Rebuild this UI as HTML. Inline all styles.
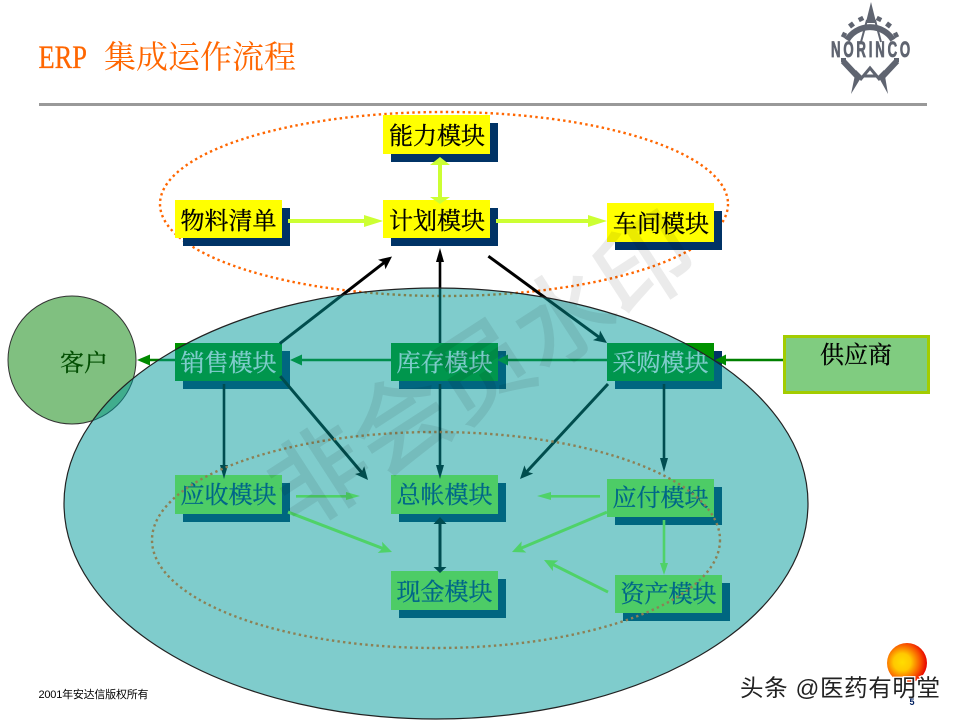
<!DOCTYPE html>
<html><head><meta charset="utf-8"><title>ERP 集成运作流程</title>
<style>
html,body{margin:0;padding:0;background:#fff;width:960px;height:720px;overflow:hidden}
svg{display:block}
.m{font-family:"Liberation Serif","Noto Serif CJK SC",serif;font-size:24px;text-anchor:middle;stroke-width:.3px}
</style></head><body>
<svg width="960" height="720" viewBox="0 0 960 720" xmlns="http://www.w3.org/2000/svg">
<defs>
<radialGradient id="sun" cx="38%" cy="48%" r="62%"><stop offset="0" stop-color="#ffdd00"/><stop offset=".35" stop-color="#ffc800"/><stop offset=".75" stop-color="#f85000"/><stop offset="1" stop-color="#e60000"/></radialGradient>
</defs>
<rect width="960" height="720" fill="#fff"/>

<!-- title -->
<text x="38.500" y="68" font-family="Liberation Serif,serif" font-size="33" fill="#ff6600" stroke="#ff6600" stroke-width=".3" textLength="48.500" lengthAdjust="spacingAndGlyphs">ERP</text>
<text x="104" y="68" font-family="Liberation Serif,Noto Serif CJK SC,serif" font-size="32" fill="#ff6600">集成运作流程</text>
<rect x="39" y="103" width="888" height="3" fill="#999"/>

<!-- logo -->
<g fill="none" stroke="#5f6470">
<path d="M847 40A27 27 0 0 1 893 40" stroke-width="6"/>
<path d="M846 36l-4 -2M853 27l-3 -4M862 21l-2 -4M878 21l2 -4M887 27l3 -4M894 36l4 -2" stroke-width="5"/>
<path d="M867 20L861 42M875 20L881 42" stroke-width="2"/>
<path d="M867 22H875" stroke-width="2"/>
<path d="M843 61L858 77M897 61L882 77" stroke-width="6"/>
<path d="M841 60h5M894 60h5" stroke-width="4"/>
<path d="M860 80L870 68L880 80M864 76H876" stroke-width="3"/>
</g>
<path d="M871 2L866 22H876Z" fill="#5f6470"/>
<path d="M851 94L856 70L862 76ZM888 94L884 70L878 76Z" fill="#5f6470"/>
<text transform="translate(831 57) scale(.6 1)" font-family="Liberation Sans,sans-serif" font-weight="bold" font-size="22" fill="#5f6470" stroke="#5f6470" stroke-width=".8" textLength="132" lengthAdjust="spacing">NORINCO</text>

<!-- customer circle -->
<circle cx="72" cy="360" r="64" fill="#80c080" stroke="#333" stroke-width="1"/>

<!-- orange dotted ellipse -->
<ellipse cx="444" cy="204" rx="284" ry="92" fill="none" stroke="#ff6600" stroke-width="2.400" stroke-dasharray="2.400 3.200"/>

<!-- yellow boxes -->
<g fill="#003366">
<rect x="391" y="123" width="107" height="39"/>
<rect x="183" y="208" width="107" height="38"/>
<rect x="391" y="208" width="107" height="38"/>
<rect x="615" y="211" width="107" height="39"/>
</g>
<g fill="#ffff00">
<rect x="383" y="115" width="107" height="39"/>
<rect x="175" y="200" width="107" height="38"/>
<rect x="383" y="200" width="107" height="38"/>
<rect x="607" y="203" width="107" height="39"/>
</g>
<g fill="#000" stroke="#000">
<text class="m" x="437" y="144">能力模块</text>
<text class="m" x="228.500" y="229">物料清单</text>
<text class="m" x="437" y="229">计划模块</text>
<text class="m" x="661" y="232">车间模块</text>
</g>

<!-- supplier -->
<rect x="784.500" y="336.500" width="144" height="56" fill="#80cc80" stroke="#a3cc00" stroke-width="3"/>
<text class="m" x="856" y="363" fill="#000" stroke="#000">供应商</text>

<!-- boxes below big ellipse -->
<g fill="#003366">
<rect x="183" y="351" width="107" height="38"/>
<rect x="399" y="351" width="107" height="38"/>
<rect x="615" y="351" width="107" height="38"/>
</g>
<g fill="#009200">
<rect x="175" y="343" width="107" height="38"/>
<rect x="391" y="343" width="107" height="38"/>
<rect x="607" y="343" width="107" height="38"/>
</g>
<g fill="#fff" stroke="#fff">
<text class="m" x="228.500" y="371">销售模块</text>
<text class="m" x="444.500" y="371">库存模块</text>
<text class="m" x="660.500" y="371">采购模块</text>
</g>

<!-- dark green arrows -->
<g fill="#008a00" stroke="#008000" stroke-width="2.600">
<line x1="783" y1="360" x2="724" y2="360"/><path d="M715 360L726 354.500V365.500Z" stroke="none"/>
<line x1="607" y1="360" x2="506" y2="360"/><path d="M497 360L508 354.500V365.500Z" stroke="none"/>
<line x1="391" y1="360" x2="300" y2="360"/><path d="M290 360L302 354.500V365.500Z" stroke="none"/>
<line x1="175" y1="360" x2="148" y2="360"/><path d="M137 360L150 354.500V365.500Z" stroke="none"/>
</g>

<!-- black arrows under the ellipse -->
<g fill="#000" stroke="none">
<g transform="translate(392 256.500) rotate(-37.800)"><rect x="-142" y="-1.500" width="134" height="3"/><path d="M0 0L-13 -6L-10 0L-13 6Z"/></g>
<g transform="translate(607 343) rotate(36.200)"><rect x="-147" y="-1.500" width="139" height="3"/><path d="M0 0L-13 -6L-10 0L-13 6Z"/></g>
<rect x="438.700" y="258" width="2.600" height="85"/><path d="M440 248L436 262H444Z"/>
<g transform="translate(368 480) rotate(49.800)"><rect x="-136" y="-1.500" width="128" height="3"/><path d="M0 0L-13 -6L-10 0L-13 6Z"/></g>
<g transform="translate(520 479) rotate(132.800)"><rect x="-129.500" y="-1.500" width="121" height="3"/><path d="M0 0L-13 -6L-10 0L-13 6Z"/></g>
</g>

<!-- big translucent ellipse -->
<ellipse cx="436" cy="503.500" rx="372" ry="215.500" fill="#009999" fill-opacity=".5" stroke="#222" stroke-width="1.200"/>

<!-- opaque light-green boxes -->
<g fill="#006680">
<rect x="183" y="483" width="107" height="39"/>
<rect x="399" y="483" width="107" height="39"/>
<rect x="615" y="487" width="107" height="38"/>
<rect x="399" y="579" width="107" height="39"/>
<rect x="623" y="583" width="107" height="38"/>
</g>
<g fill="#4dcc66">
<rect x="175" y="475" width="107" height="39"/>
<rect x="391" y="475" width="107" height="39"/>
<rect x="607" y="479" width="107" height="38"/>
<rect x="391" y="571" width="107" height="39"/>
<rect x="615" y="575" width="107" height="38"/>
</g>
<g fill="#006688" stroke="#006688">
<text class="m" x="228.500" y="503">应收模块</text>
<text class="m" x="444.500" y="503">总帐模块</text>
<text class="m" x="660.500" y="506">应付模块</text>
<text class="m" x="444.500" y="600">现金模块</text>
<text class="m" x="668.500" y="602">资产模块</text>
</g>

<!-- dark vertical arrows over the boxes -->
<g fill="#004c50">
<rect x="438.700" y="384" width="2.600" height="86"/><path d="M440 479L436 465H444Z"/>
<rect x="222.700" y="384" width="2.600" height="86"/><path d="M224 479L220 465H228Z"/>
<rect x="662.700" y="384" width="2.600" height="80"/><path d="M664 472L660 458H668Z"/>
<rect x="438.500" y="523" width="3" height="44"/><path d="M440 517L433.500 524H446.500ZM440 573L433.500 567H446.500Z"/>
</g>

<!-- inner dotted ellipse -->
<ellipse cx="436" cy="540" rx="284" ry="108" fill="none" stroke="#8c8055" stroke-width="2.400" stroke-dasharray="2.400 3.200"/>

<!-- yellow-green arrows -->
<g fill="#ccff33">
<rect x="438" y="163" width="4" height="36"/><path d="M440 157L450 165H430ZM440 204L430 197H450Z"/>
<rect x="288" y="219" width="78" height="4"/><path d="M383 221L364 215V227Z"/>
<rect x="496" y="219" width="94" height="4"/><path d="M607 221L588 215V227Z"/>
</g>

<!-- light green arrows -->
<g fill="#4fd268">
<rect x="296" y="495" width="54" height="2.600"/><path d="M360 496L346 492V500Z"/>
<rect x="547" y="495" width="53" height="2.600"/><path d="M537 496L551 492V500Z"/>
<rect x="662.700" y="520" width="2.600" height="45"/><path d="M664 575L660 563H668Z"/>
<g transform="translate(392 552) rotate(21)"><rect x="-111.400" y="-1.500" width="103" height="3"/><path d="M0 0L-13 -6L-10 0L-13 6Z"/></g>
<g transform="translate(512 552) rotate(157.200)"><rect x="-103" y="-1.500" width="95" height="3"/><path d="M0 0L-13 -6L-10 0L-13 6Z"/></g>
<g transform="translate(544 560) rotate(206.600)"><rect x="-71.600" y="-1.500" width="63" height="3"/><path d="M0 0L-13 -6L-10 0L-13 6Z"/></g>
</g>

<!-- customer label -->
<text class="m" x="84" y="371" fill="#004d00" stroke="#004d00">客户</text>

<!-- watermark -->
<g opacity=".075"><text x="482" y="405" text-anchor="middle" transform="rotate(-33 482 370)" font-family="Liberation Sans,Noto Sans CJK SC,sans-serif" font-size="97" fill="#000" stroke="#000" stroke-width="2">非会员水印</text></g>

<!-- footer -->
<text x="38.500" y="698" font-family="Liberation Sans,Noto Sans CJK SC,sans-serif" font-size="11" fill="#000" textLength="110">2001年安达信版权所有</text>
<circle cx="907" cy="663" r="20" fill="url(#sun)"/>
<text x="740" y="696" font-family="Liberation Sans,Noto Sans CJK SC,sans-serif" font-size="23.500" fill="#222" stroke="#fff" stroke-width="2.500" paint-order="stroke" textLength="200">头条 @医药有明堂</text>
<text x="912" y="705" text-anchor="middle" font-family="Liberation Sans,sans-serif" font-weight="bold" font-size="9" fill="#002060">5</text>
</svg>
</body></html>
